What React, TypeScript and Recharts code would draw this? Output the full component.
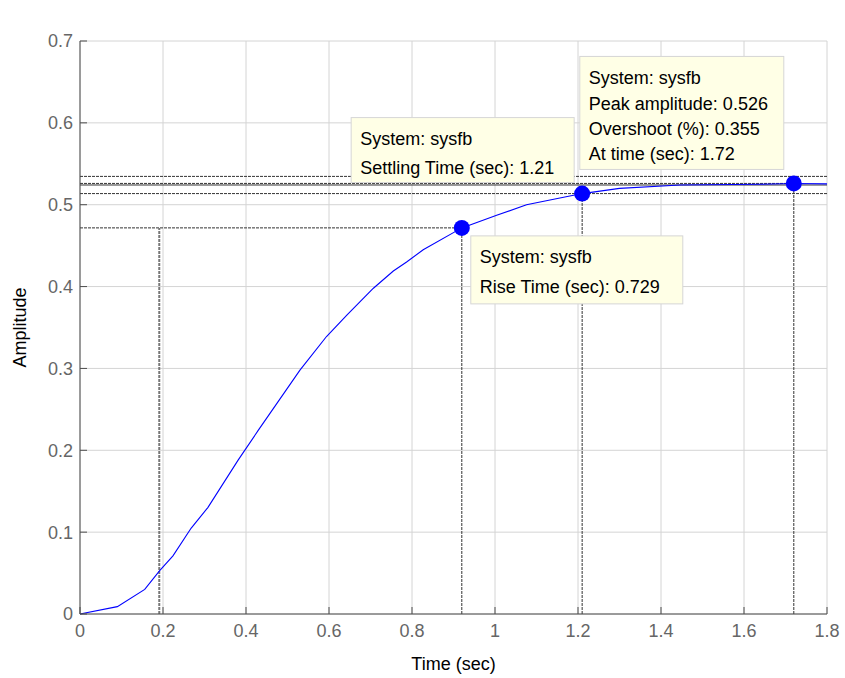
import React from 'react';
import {
    LineChart,
    Line,
    XAxis,
    YAxis,
    CartesianGrid,
    ReferenceLine,
    ReferenceDot
} from 'recharts';

// step response samples
const time = [0, 0.09, 0.156, 0.192, 0.224, 0.268, 0.308, 0.381, 0.429, 0.53, 0.594, 0.643, 0.707, 0.755, 0.787, 0.827, 0.92, 1.004, 1.076, 1.21, 1.3, 1.446, 1.639, 1.72, 1.8];
const amplitude = [0, 0.009, 0.03, 0.053, 0.071, 0.105, 0.13, 0.188, 0.224, 0.298, 0.339, 0.365, 0.398, 0.419, 0.43, 0.445, 0.4717, 0.487, 0.5, 0.5136, 0.52, 0.524, 0.525, 0.526, 0.5255];

const xTicks = [0, 0.2, 0.4, 0.6, 0.8, 1, 1.2, 1.4, 1.6, 1.8];
const yTicks = [0, 0.1, 0.2, 0.3, 0.4, 0.5, 0.6, 0.7];

// characteristics
const finalValue = 0.5241;
const riseStart = 0.191;
const riseEnd = 0.92;
const riseLevel = 0.4717;
const settleTime = 1.21;
const settleLevel = 0.5136;
const settleBand = [0.5346, 0.5136];
const peakTime = 1.72;
const peakValue = 0.526;

const riseText = ['System: sysfb', 'Rise Time (sec): 0.729'];
const settleText = ['System: sysfb', 'Settling Time (sec): 1.21'];
const peakText = ['System: sysfb', 'Peak amplitude: 0.526', 'Overshoot (%): 0.355', 'At time (sec): 1.72'];

const data = time.map((t, i) => ({ t, y: amplitude[i] }));

const FONT = '"Liberation Sans", Arial, sans-serif';
const AXIS = '#4d4d4d';
const MARK = '#333333';

// datatip box drawn next to its marker
const tip = (lines: string[], dx: number, dy: number, w: number, h: number, first: number, step: number) =>
    (props: any) => {
        const vb = props.viewBox || {};
        const cx = vb.x + vb.width / 2;
        const cy = vb.y + vb.height / 2;
        const left = cx + dx;
        const top = cy + dy;
        return (
            <g>
                <rect x={left} y={top} width={w} height={h} fill="#ffffe6" stroke="#d6d6d6" />
                {lines.map((s, i) => (
                    <text
                        key={i}
                        x={left + 9}
                        y={top + first + i * step}
                        dominantBaseline="central"
                        fontSize={18}
                        fill="#000"
                    >
                        {s}
                    </text>
                ))}
            </g>
        );
    };

const dash = '3 1';

const App: React.FC = () => {
    return (
        <div style={{ position: 'absolute', left: 0, top: 0, width: 845, height: 678, background: '#fff', fontFamily: FONT }}>
            <LineChart
                width={845}
                height={678}
                data={data}
                margin={{ top: 41, right: 18, left: 0, bottom: 0 }}
            >
                <CartesianGrid stroke="#d4d4d4" />
                <XAxis
                    dataKey="t"
                    type="number"
                    domain={[0, 1.8]}
                    ticks={xTicks}
                    height={64}
                    stroke={AXIS}
                    tickSize={-7}
                    tickMargin={17}
                    tick={{ fill: '#666', fontSize: 18 }}
                    label={{ value: 'Time (sec)', position: 'insideBottom', offset: 8, fill: '#000', fontSize: 18 }}
                />
                <XAxis
                    xAxisId="top"
                    orientation="top"
                    type="number"
                    domain={[0, 1.8]}
                    ticks={xTicks}
                    height={0}
                    stroke={AXIS}
                    tickSize={-7}
                    tick={false}
                    label={{ value: 'Step Response', position: 'top', offset: 14, fill: '#000', fontSize: 16 }}
                />
                <YAxis
                    type="number"
                    domain={[0, 0.7]}
                    ticks={yTicks}
                    width={80}
                    stroke={AXIS}
                    tickSize={-7}
                    tickMargin={14}
                    tick={{ fill: '#666', fontSize: 18 }}
                    label={{ value: 'Amplitude', angle: -90, position: 'insideLeft', offset: 20, fill: '#000', fontSize: 18, style: { textAnchor: 'middle' } }}
                />
                <YAxis
                    yAxisId="right"
                    orientation="right"
                    type="number"
                    domain={[0, 0.7]}
                    ticks={yTicks}
                    width={0}
                    stroke={AXIS}
                    tickSize={-7}
                    tick={false}
                />

                {/* settling band and final value */}
                {settleBand.map((v) => (
                    <ReferenceLine key={v} y={v} stroke={MARK} strokeDasharray={dash} />
                ))}
                <ReferenceLine y={finalValue} stroke={MARK} />

                {/* peak */}
                <ReferenceLine segment={[{ x: 0, y: peakValue }, { x: peakTime, y: peakValue }]} stroke={MARK} strokeDasharray={dash} />
                <ReferenceLine segment={[{ x: peakTime, y: 0 }, { x: peakTime, y: peakValue }]} stroke={MARK} strokeDasharray={dash} />

                {/* settling */}
                <ReferenceLine segment={[{ x: settleTime, y: 0 }, { x: settleTime, y: settleLevel }]} stroke={MARK} strokeDasharray={dash} />

                {/* rise */}
                <ReferenceLine segment={[{ x: 0, y: riseLevel }, { x: riseEnd, y: riseLevel }]} stroke={MARK} strokeDasharray={dash} />
                <ReferenceLine segment={[{ x: riseStart, y: 0 }, { x: riseStart, y: riseLevel }]} stroke="#777" strokeWidth={2} strokeDasharray={dash} />
                <ReferenceLine segment={[{ x: riseEnd, y: 0 }, { x: riseEnd, y: riseLevel }]} stroke={MARK} strokeDasharray={dash} />

                <Line
                    type="linear"
                    dataKey="y"
                    stroke="#0000ff"
                    strokeWidth={1.1}
                    dot={false}
                    isAnimationActive={false}
                />

                <ReferenceDot x={riseEnd} y={riseLevel} r={8} fill="#0000ff" stroke="none"
                    label={tip(riseText, 9, 8, 212, 68, 21, 30)} />
                <ReferenceDot x={settleTime} y={settleLevel} r={8} fill="#0000ff" stroke="none"
                    label={tip(settleText, -231, -76, 223, 65, 21, 29)} />
                <ReferenceDot x={peakTime} y={peakValue} r={8} fill="#0000ff" stroke="none"
                    label={tip(peakText, -214, -127, 204, 113, 22, 25.3)} />
            </LineChart>
        </div>
    );
};

export default App;
